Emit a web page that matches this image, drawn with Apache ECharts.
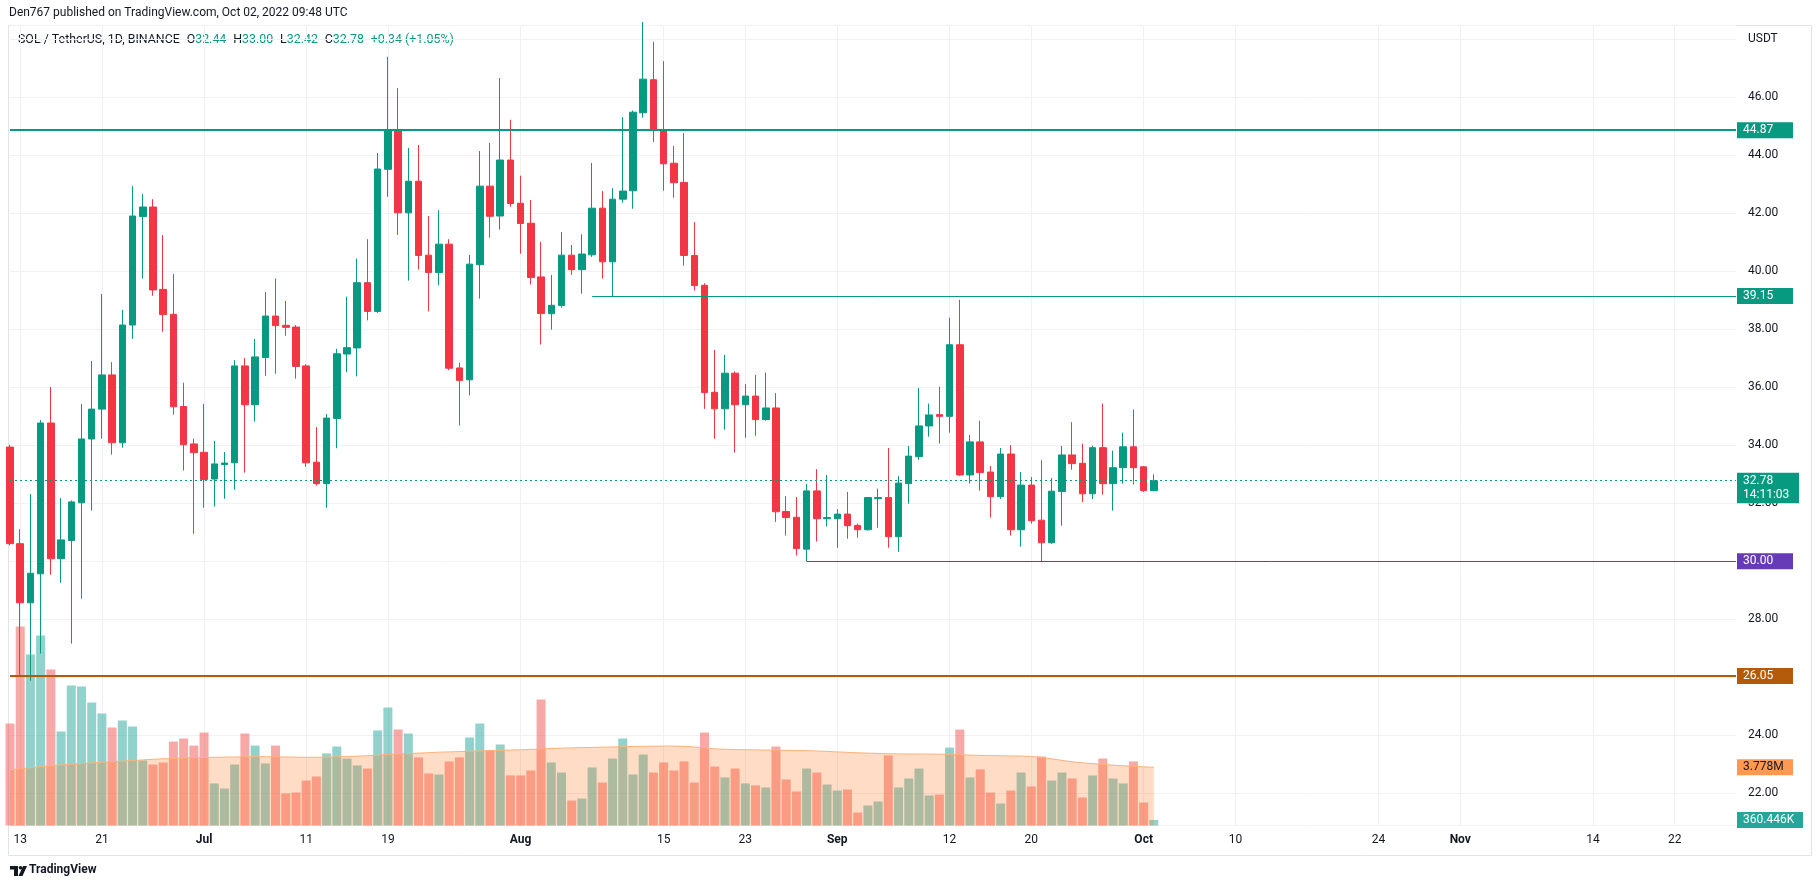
<!DOCTYPE html>
<html><head><meta charset="utf-8">
<script src="https://cdn.jsdelivr.net/npm/echarts@6/dist/echarts.min.js"></script>
<style>html,body{margin:0;padding:0;background:#fff}#c{width:1818px;height:888px}</style>
</head><body><div id="c"></div>
<script>
// ---- data ----
const firstDay = '2022-06-12';
const axisDays = 170; // Jun 12 .. Nov 28 (visible time scale)
const openP = [
33.94,30.61,28.57,29.57,34.77,30.09,30.72,32.02,34.22,35.25,
36.43,34.09,38.15,41.89,42.22,39.38,38.52,35.34,34.05,33.76,
32.84,33.34,33.40,36.74,35.40,37.03,38.46,38.14,38.08,36.74,
33.42,32.68,34.93,37.15,37.36,39.61,38.62,43.52,44.88,42.02,
43.11,40.56,39.96,40.94,36.67,36.26,40.23,42.94,41.91,43.84,
42.35,41.66,39.81,38.54,38.82,40.56,40.06,40.57,42.18,40.33,
42.49,42.78,45.47,46.61,44.87,43.73,43.07,40.55,39.52,35.83,
35.26,36.49,35.40,35.70,34.89,35.29,31.72,31.52,30.42,32.43,
31.47,31.47,31.63,31.24,31.09,32.16,32.20,30.85,32.68,33.61,
34.67,35.06,35.00,37.47,32.98,34.12,33.08,32.23,33.70,31.09,
32.63,31.42,30.64,32.41,33.67,33.38,32.33,33.92,32.68,33.23,
33.95,33.26,32.44];
const highP = [
34.02,31.11,32.32,34.87,36.01,32.18,32.10,35.43,36.91,39.22,
36.87,38.67,42.94,42.67,42.49,41.25,39.91,36.16,34.23,35.43,
34.15,33.77,36.94,37.01,37.67,39.29,39.75,38.98,38.15,36.80,
34.63,35.08,37.33,39.13,40.44,41.11,44.08,47.40,46.32,44.26,
44.36,41.91,42.11,41.11,36.85,40.57,44.15,44.43,46.67,45.23,
43.30,42.46,41.02,39.88,41.36,40.91,41.28,43.74,42.77,42.87,
45.32,45.55,48.60,47.92,47.25,44.32,44.77,41.70,39.59,37.29,
37.12,36.55,36.11,36.43,36.51,35.80,32.25,32.22,32.67,33.18,
32.98,31.80,32.39,31.30,32.22,32.51,33.91,32.94,33.98,35.98,
35.44,36.02,38.40,39.02,34.36,34.85,33.29,33.91,34.01,33.08,
32.91,33.49,32.87,33.98,34.80,34.06,33.99,35.44,33.82,34.44,
35.24,33.28,33.00];
const lowP = [
30.55,26.05,25.88,26.82,29.54,29.26,27.16,28.71,31.75,34.23,
33.68,33.92,37.67,39.75,39.16,37.92,35.06,33.13,30.95,31.85,
31.89,32.16,32.47,33.06,34.82,36.40,36.47,37.78,36.30,33.26,
32.61,31.85,33.90,36.52,36.38,38.31,38.57,42.57,41.26,39.68,
40.06,38.62,39.52,36.59,34.69,35.72,39.06,41.16,41.44,42.23,
40.61,39.55,37.48,37.99,38.75,39.88,39.23,40.50,39.75,39.15,
42.37,42.16,45.30,44.46,42.78,42.54,40.20,39.34,35.26,34.23,
34.54,33.75,34.26,34.33,34.85,31.36,30.89,30.20,30.00,30.68,
31.20,30.47,30.78,30.82,31.06,31.16,30.47,30.33,31.99,33.50,
34.30,34.06,34.44,32.95,32.68,32.44,31.51,32.15,30.89,30.51,
31.30,30.00,30.61,31.23,33.16,32.05,32.15,32.30,31.75,32.68,
32.65,32.39,32.42];
const closeP = [
30.61,28.57,29.59,34.77,30.09,30.74,32.05,34.22,35.25,36.43,
34.09,38.15,41.91,42.22,39.36,38.51,35.33,34.02,33.75,32.82,
33.36,33.39,36.74,35.40,37.05,38.46,38.13,38.07,36.72,33.40,
32.68,34.94,37.16,37.37,39.61,38.62,43.53,44.88,42.02,43.11,
40.55,39.96,40.94,36.66,36.24,40.25,42.94,41.90,43.84,42.34,
41.65,39.79,38.55,38.83,40.56,40.06,40.60,42.18,40.33,42.49,
42.77,45.49,46.63,44.86,43.71,43.06,40.55,39.51,35.82,35.26,
36.49,35.40,35.70,34.89,35.29,31.71,31.51,30.44,32.43,31.47,
31.51,31.63,31.23,31.09,32.20,32.20,30.85,32.70,33.63,34.67,
35.05,35.00,37.47,32.98,34.12,33.06,32.23,33.70,31.09,32.63,
31.40,30.64,32.42,33.67,33.37,32.33,33.92,32.68,33.23,33.95,
33.23,32.44,32.78];
// volume in millions
const volumeM = [
6.62,12.92,11.10,12.34,10.13,6.10,9.09,9.03,7.99,7.27,
6.36,6.82,6.43,4.22,3.96,4.09,5.45,5.65,5.19,6.04,
2.73,2.40,3.96,5.97,5.19,4.03,5.19,2.08,2.14,2.92,
3.18,4.68,5.13,4.35,3.90,3.70,6.17,7.66,6.23,5.97,
4.42,3.38,3.31,4.16,4.42,5.71,6.62,4.87,5.26,3.25,
3.25,3.57,8.18,4.09,3.44,1.62,1.75,3.77,2.79,4.35,
5.65,3.31,4.61,3.44,4.09,3.57,4.16,2.79,6.04,3.83,
3.12,3.70,2.73,2.60,2.47,5.13,2.99,2.21,3.70,3.44,
2.66,2.27,2.34,0.84,1.30,1.56,4.55,2.47,3.05,3.70,
1.95,2.01,5.06,6.23,3.12,3.64,2.14,1.43,2.27,3.44,
2.53,4.48,2.92,3.44,3.05,1.82,3.25,4.35,3.05,2.73,
4.16,1.49,0.360446];
// volume moving average (millions)
const volumeMA = [
3.61,3.68,3.75,3.82,3.88,3.93,3.98,4.02,4.06,4.10,
4.14,4.18,4.22,4.26,4.30,4.33,4.36,4.38,4.40,4.42,
4.43,4.44,4.45,4.46,4.47,4.47,4.46,4.45,4.44,4.43,
4.43,4.44,4.46,4.48,4.50,4.53,4.57,4.61,4.64,4.67,
4.70,4.73,4.76,4.78,4.80,4.82,4.84,4.86,4.88,4.90,
4.92,4.94,4.97,5.00,5.02,5.04,5.06,5.07,5.09,5.10,
5.12,5.13,5.14,5.15,5.16,5.16,5.14,5.10,5.04,4.98,
4.95,4.93,4.92,4.91,4.90,4.89,4.88,4.87,4.86,4.84,
4.81,4.78,4.75,4.72,4.70,4.68,4.66,4.65,4.65,4.64,
4.64,4.63,4.62,4.60,4.57,4.55,4.54,4.53,4.52,4.51,
4.48,4.42,4.33,4.23,4.14,4.07,4.02,3.97,3.92,3.88,
3.84,3.81,3.778];
const tickDates = ['2022-06-13','2022-06-21','2022-07-01','2022-07-11','2022-07-19','2022-08-01','2022-08-15','2022-08-23','2022-09-01','2022-09-12','2022-09-20','2022-10-01','2022-10-10','2022-10-24','2022-11-01','2022-11-14','2022-11-22'];
const tickTexts = ['13','21','Jul','11','19','Aug','15','23','Sep','12','20','Oct','10','24','Nov','14','22'];
const levelValues = [44.87, 39.15, 30.00, 26.05];
const levelStarts = [null, '2022-08-08', '2022-08-29', null];
const levelColors = ['#089981', '#089981', '#673AB7', '#B45A0B'];
const levelWidths = [2, 1, 1, 2];
const lastPrice = 32.78;
const countdown = '14:11:03';

// ---- build ----
const categories = [];
{ const t0 = Date.parse(firstDay + 'T00:00:00Z');
  for (let i = 0; i < axisDays; i++) categories.push(new Date(t0 + i * 86400000).toISOString().slice(0, 10)); }
const lastCat = categories[categories.length - 1];
const UP = '#089981', DOWN = '#F23645';
const FONT = 'Roboto, "Liberation Sans", sans-serif';
const TXT = '#131722';
const GRIDC = '#F0F1F4';
const HIDDEN_LINE = { color: 'rgba(0,0,0,0)', width: 1, type: 'solid' };

const candleData = openP.map((o, i) => [o, closeP[i], lowP[i], highP[i]]);
const volData = volumeM.map((v, i) => ({ value: v, itemStyle: { color: closeP[i] >= openP[i] ? 'rgba(38,166,154,0.5)' : 'rgba(239,83,80,0.5)' } }));

const boxLabel = (text, bg, color, w) => ({ show: true, position: 'end', distance: 1, formatter: text, backgroundColor: bg, color: color || '#fff', opacity: 1, fontSize: 12, fontFamily: FONT, padding: [2, 6, 1, 6], width: w || 44, lineHeight: 13, align: 'left' });

const levelLines = levelValues.map((v, k) => {
  const ls = { color: levelColors[k], width: levelWidths[k], type: 'solid' };
  const lab = boxLabel(v.toFixed(2), levelColors[k]);
  if (levelStarts[k] === null) return { yAxis: v, lineStyle: ls, label: lab };
  return [{ coord: [levelStarts[k], v], lineStyle: ls, label: lab }, { coord: [lastCat, v] }];
});
levelLines.push({ yAxis: lastPrice - 0.5, lineStyle: HIDDEN_LINE, label: boxLabel(countdown, UP, '#fff', 50) });
levelLines.push({ yAxis: lastPrice, lineStyle: { color: UP, width: 1, type: [2, 3] }, label: boxLabel(lastPrice.toFixed(2), UP, '#fff', 50) });

const fmtVol = v => v >= 1 ? v.toFixed(3) + 'M' : (v * 1000).toFixed(3) + 'K';

const chart = echarts.init(document.getElementById('c'), null, { renderer: 'canvas' });
chart.setOption({
  animation: false,
  backgroundColor: '#ffffff',
  textStyle: { fontFamily: FONT },
  grid: [{ left: 10, right: 82, top: 25.5, bottom: 62.5, containLabel: false }],
  xAxis: [{
    type: 'category', data: categories, boundaryGap: false,
    axisLine: { show: false }, axisTick: { show: false },
    axisLabel: {
      interval: (i, v) => tickDates.includes(v),
      formatter: v => { const t = tickTexts[tickDates.indexOf(v)]; return /^[A-Z]/.test(t) ? '{m|' + t + '}' : t; },
      color: TXT, fontSize: 12, margin: 8, fontFamily: FONT,
      rich: { m: { fontWeight: 'bold', fontSize: 12, color: TXT, fontFamily: FONT } }
    },
    splitLine: { show: true, interval: (i, v) => tickDates.includes(v), lineStyle: { color: GRIDC, width: 1 } }
  }],
  yAxis: [{
    type: 'value', position: 'right', min: 20.89, max: 48.48, splitNumber: 14,
    axisLine: { show: false }, axisTick: { show: false },
    axisLabel: { showMinLabel: false, showMaxLabel: false, formatter: v => v === 48 ? 'USDT' : v.toFixed(2), color: TXT, fontSize: 12, margin: 12, fontFamily: FONT },
    splitLine: { lineStyle: { color: GRIDC, width: 1 } }
  }, {
    type: 'value', min: 0, max: 51.95, show: false
  }],
  series: [{
    name: 'Volume', type: 'bar', yAxisIndex: 1, data: volData, barWidth: 9, z: 1, silent: true,
    markLine: { symbol: ['none', 'none'], silent: true, data: [{ yAxis: volumeM[volumeM.length - 1], lineStyle: HIDDEN_LINE, label: boxLabel(fmtVol(volumeM[volumeM.length - 1]), '#26A69A', '#fff', 54) }] }
  }, {
    name: 'Volume MA', type: 'line', yAxisIndex: 1, data: volumeMA, symbol: 'none', z: 2, silent: true,
    lineStyle: { color: '#FFB27A', width: 1 }, areaStyle: { color: 'rgba(255,120,30,0.37)' },
    markLine: { symbol: ['none', 'none'], silent: true, data: [{ yAxis: volumeMA[volumeMA.length - 1], lineStyle: HIDDEN_LINE, label: boxLabel(fmtVol(volumeMA[volumeMA.length - 1]), '#FF9850', TXT, 44) }] }
  }, {
    name: 'SOL', type: 'candlestick', data: candleData, barWidth: 7, z: 3, silent: true,
    itemStyle: { color: UP, color0: DOWN, borderColor: UP, borderColor0: DOWN, borderWidth: 1 },
    markLine: { symbol: ['none', 'none'], silent: true, data: levelLines }
  }],
  graphic: [
    { type: 'rect', z: -10, shape: { x: 8.5, y: 25.5, width: 1803, height: 830 }, style: { fill: 'none', stroke: '#E0E3EB', lineWidth: 1 } },
    { type: 'text', left: 9, top: 7, style: { text: 'Den767 published on TradingView.com, Oct 02, 2022 09:48 UTC', fontSize: 12, fontFamily: FONT, fill: TXT } },
    { type: 'text', left: 18, top: 34, style: {
      text: '{d|SOL / TetherUS, 1D, BINANCE}  {d|O}{v|32.44}  {d|H}{v|33.00}  {d|L}{v|32.42}  {d|C}{v|32.78}  {v|+0.34 (+1.05%)}',
      rich: { d: { fill: TXT, fontSize: 12.4, fontFamily: FONT }, v: { fill: UP, fontSize: 12.4, fontFamily: FONT } }, fontSize: 12.4 } },
    { type: 'polygon', shape: { points: [[10, 866], [18, 866], [18, 876], [14, 876], [14, 869.5], [10, 869.5]] }, style: { fill: TXT } },
    { type: 'circle', shape: { cx: 20.5, cy: 867.8, r: 1.8 }, style: { fill: TXT } },
    { type: 'polygon', shape: { points: [[23, 866], [27, 866], [22.5, 876], [18.5, 876]] }, style: { fill: TXT } },
    { type: 'text', left: 29, top: 864, style: { text: 'TradingView', fontSize: 12, fontWeight: 'bold', fontFamily: FONT, fill: TXT } }
  ]
});
</script>
</body></html>
